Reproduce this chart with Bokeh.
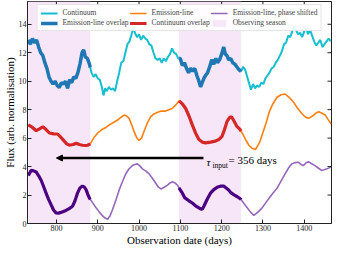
import numpy as np
from bokeh.plotting import figure
from bokeh.models import (Range1d, Arrow, NormalHead, Label, Legend,
                          LegendItem, FixedTicker)
from bokeh.embed import file_html
from bokeh.resources import INLINE

FONT = "Liberation Serif"

# ---------------- data ----------------
cont_t = [732, 737, 742, 747, 752, 757, 762, 767, 772, 777, 782, 787, 792, 797, 802, 807,
          812, 817, 822, 827, 832, 837, 842, 847, 852, 857, 862, 866, 870, 875, 880, 885,
          890, 895, 900, 905, 910, 914, 918, 922, 927, 932, 937, 942, 947, 952, 957, 962,
          967, 972, 977, 982, 986, 990, 995, 1000, 1005, 1010, 1015, 1020, 1025, 1030, 1035,
          1040, 1045, 1050, 1055, 1060, 1065, 1070, 1075, 1080, 1085, 1090, 1095, 1100, 1105,
          1110, 1115, 1120, 1125, 1130, 1135, 1140, 1145, 1149, 1153, 1157, 1161, 1166, 1171,
          1176, 1181, 1186, 1190, 1195, 1200, 1205, 1209, 1213, 1217, 1222, 1227, 1232, 1237,
          1242, 1247, 1252, 1257, 1262, 1267, 1271, 1276, 1281, 1286, 1291, 1296, 1301, 1306,
          1311, 1316, 1321, 1326, 1331, 1336, 1341, 1346, 1351, 1356, 1361, 1366, 1371, 1376,
          1380, 1385, 1390, 1395, 1400, 1405, 1409, 1414, 1419, 1424, 1429, 1434, 1439, 1444,
          1449, 1454, 1459, 1464]
cont_f = [12.9, 12.6, 13.0, 12.7, 12.9, 12.4, 12.0, 11.8, 11.3, 10.9, 10.3, 10.0, 9.8, 10.0,
          9.7, 9.55, 9.9, 9.8, 10.0, 9.5, 10.1, 9.9, 10.3, 10.2, 10.6, 11.2, 12.0, 12.2, 11.7,
          11.6, 11.2, 10.6, 10.3, 10.5, 10.2, 10.1, 9.6, 9.0, 9.5, 9.3, 9.6, 9.4, 9.5, 9.3,
          10.0, 10.6, 11.3, 11.4, 12.0, 12.6, 12.8, 13.3, 13.8, 13.4, 13.1, 13.3, 12.9, 13.2,
          13.0, 12.9, 12.6, 12.5, 12.0, 11.6, 11.5, 11.6, 11.3, 11.6, 11.4, 11.7, 11.9, 12.3,
          12.0, 11.9, 11.6, 11.6, 11.1, 11.3, 10.9, 10.6, 10.9, 10.7, 10.9, 10.4, 10.0, 9.6,
          9.9, 10.2, 10.4, 10.6, 11.0, 11.5, 11.2, 11.6, 11.3, 11.5, 11.9, 12.4, 11.9, 11.8,
          11.5, 11.6, 11.3, 11.2, 11.0, 10.8, 10.7, 11.0, 10.8, 10.3, 9.8, 9.4, 9.8, 9.5, 9.7,
          9.6, 9.9, 9.8, 10.2, 10.4, 10.6, 10.9, 11.0, 11.3, 11.5, 11.8, 12.1, 12.6, 12.7,
          13.2, 13.1, 13.5, 13.9, 13.6, 13.3, 13.4, 13.1, 13.5, 13.8, 13.3, 13.6, 13.2, 12.8,
          12.5, 12.7, 12.9, 12.4, 12.6, 12.8, 13.0, 12.8]

line_t = [732, 742, 751, 759, 767, 775, 783, 793, 803, 811, 819, 825, 831, 840, 848, 856,
          863, 870, 876, 882, 890, 900, 910, 920, 928, 938, 948, 956, 964, 970, 976, 982,
          988, 994, 1000, 1006, 1012, 1020, 1028, 1036, 1044, 1054, 1064, 1072, 1080, 1088,
          1097, 1105, 1113, 1121, 1129, 1137, 1145, 1153, 1161, 1173, 1185, 1193, 1201, 1207,
          1213, 1219, 1224, 1230, 1237, 1245, 1252, 1258, 1266, 1274, 1282, 1292, 1300, 1308,
          1316, 1324, 1334, 1344, 1354, 1364, 1374, 1384, 1394, 1402, 1410, 1420, 1428, 1435,
          1443, 1451, 1458, 1465]
line_f = [6.93, 6.75, 6.52, 6.65, 6.8, 6.6, 6.36, 6.3, 6.29, 6.05, 5.79, 5.6, 5.5, 5.55,
          5.63, 5.55, 5.5, 5.48, 5.5, 5.6, 6.0, 6.36, 6.6, 6.75, 6.93, 7.1, 7.27, 7.45, 7.62,
          7.55, 7.39, 6.95, 6.47, 6.05, 5.83, 6.0, 6.47, 7.05, 7.5, 7.7, 7.8, 7.9, 7.9, 8.0,
          8.08, 8.3, 8.62, 8.4, 8.08, 7.55, 6.93, 6.35, 5.9, 5.72, 5.67, 5.72, 5.79, 5.9, 6.13,
          6.6, 7.16, 7.45, 7.5, 7.2, 6.82, 6.59, 6.25, 5.9, 5.5, 5.28, 5.2, 5.7, 6.4, 7.1, 7.9,
          8.4, 8.87, 9.05, 9.1, 8.85, 8.53, 8.1, 7.73, 7.5, 7.39, 7.55, 7.75, 7.85, 7.75, 7.62,
          7.3, 7.0]

shift_t = [732, 739, 745, 751, 757, 763, 769, 775, 781, 787, 793, 799, 805, 811, 817, 823,
           831, 839, 845, 851, 857, 863, 868, 872, 876, 880, 888, 896, 904, 912, 918, 924,
           930, 936, 944, 952, 960, 968, 976, 984, 990, 996, 1002, 1008, 1016, 1024, 1032,
           1041, 1047, 1053, 1061, 1069, 1075, 1081, 1087, 1093, 1099, 1105, 1111, 1117, 1123,
           1129, 1139, 1149, 1153, 1157, 1165, 1173, 1181, 1189, 1197, 1205, 1211, 1217, 1223,
           1230, 1238, 1246, 1254, 1262, 1270, 1278, 1288, 1298, 1308, 1318, 1326, 1334, 1344,
           1354, 1362, 1370, 1378, 1386, 1392, 1398, 1404, 1410, 1418, 1426, 1434, 1442, 1448,
           1455, 1464]
shift_f = [3.38, 3.73, 3.7, 3.62, 3.35, 3.04, 2.6, 2.13, 1.7, 1.33, 0.95, 0.75, 0.73, 0.78,
           0.85, 0.92, 1.05, 1.21, 1.6, 2.13, 2.5, 2.63, 2.55, 2.36, 2.05, 1.78, 1.45, 1.1,
           0.8, 0.53, 0.38, 0.3, 0.55, 0.98, 1.65, 2.36, 2.95, 3.5, 3.85, 4.07, 4.15, 4.19,
           4.05, 3.84, 3.7, 3.5, 3.2, 2.81, 2.55, 2.43, 2.55, 2.7, 2.85, 2.93, 2.85, 2.7, 2.4,
           2.13, 1.8, 1.68, 1.55, 1.44, 1.2, 1.03, 1.0, 1.21, 1.7, 2.13, 2.38, 2.54, 2.62,
           2.63, 2.5, 2.36, 2.15, 2.01, 1.88, 1.72, 1.4, 1.1, 0.8, 0.57, 0.8, 1.1, 1.5, 1.9,
           2.2, 2.47, 3.0, 3.5, 3.9, 4.19, 4.28, 4.3, 4.15, 4.07, 4.25, 4.35, 4.2, 4.07, 3.9,
           3.73, 3.78, 3.84, 3.96]

season_start = [732, 1097]
season_end = [882, 1247]

tau_input = 356
arrow_head_x = 800
arrow_y = 4.6

x_ticks = [800, 900, 1000, 1100, 1200, 1300, 1400]
y_ticks = [0, 2, 4, 6, 8, 10, 12, 14]
x_lim = (730, 1466)
y_lim = (0, 15.6)

# colours
C_CONT, C_CONT_OV = "#17becf", "#1f77b4"
C_LINE, C_LINE_OV = "#ff7f0e", "#d62728"
C_SHIFT, C_SHIFT_OV = "#9467bd", "#4b0082"
C_SEASON = "#f7e6f7"
C_FRAME = "#222222"


def season_segments(t, f):
    t = np.asarray(t, float)
    f = np.asarray(f, float)
    xs, ys = [], []
    for s, e in zip(season_start, season_end):
        s = max(s, t[0])
        e = min(e, t[-1])
        inner = t[(t > s) & (t < e)]
        xx = np.concatenate([[s], inner, [e]])
        xs.append(list(xx))
        ys.append(list(np.interp(xx, t, f)))
    return xs, ys


p = figure(frame_width=304, frame_height=222, output_backend="svg", toolbar_location=None,
           x_range=Range1d(*x_lim), y_range=Range1d(*y_lim),
           min_border_left=0, min_border_right=3, min_border_top=1, min_border_bottom=0)
p.xgrid.visible = False
p.ygrid.visible = False
p.outline_line_color = C_FRAME
p.outline_line_width = 1
p.background_fill_color = "white"

seasons = p.quad(left=season_start, right=season_end,
                 bottom=[y_lim[0]] * len(season_start), top=[y_lim[1]] * len(season_start),
                 fill_color=C_SEASON, line_color=None)

r_cont = p.line(cont_t, cont_f, line_color=C_CONT, line_width=2)
xs, ys = season_segments(cont_t, cont_f)
r_cont_ov = p.multi_line(xs, ys, line_color=C_CONT_OV, line_width=3.5)

r_line = p.line(line_t, line_f, line_color=C_LINE, line_width=1.6)
xs, ys = season_segments(line_t, line_f)
r_line_ov = p.multi_line(xs, ys, line_color=C_LINE_OV, line_width=3.2)

r_shift = p.line(shift_t, shift_f, line_color=C_SHIFT, line_width=1.6)
xs, ys = season_segments(shift_t, shift_f)
r_shift_ov = p.multi_line(xs, ys, line_color=C_SHIFT_OV, line_width=3.2)

# inward ticks on the top and right frame edges (mirroring the axes)
p.scatter(x=x_ticks, y=[y_lim[1]] * len(x_ticks), marker="dash", angle=np.pi / 2,
          size=8, line_color=C_FRAME, line_width=1)
p.scatter(x=[x_lim[1]] * len(y_ticks), y=y_ticks, marker="dash",
          size=8, line_color=C_FRAME, line_width=1)

# arrow with lag annotation
tail_x = arrow_head_x + tau_input
p.add_layout(Arrow(end=NormalHead(size=6, fill_color="black", line_color="black"),
                   x_start=tail_x, y_start=arrow_y, x_end=arrow_head_x, y_end=arrow_y,
                   line_color="black", line_width=2.5))
p.add_layout(Label(x=tail_x, y=arrow_y, x_offset=3, y_offset=-4, text="τ",
                   text_font=FONT, text_font_style="italic", text_font_size="11px",
                   text_baseline="middle", text_color="black"))
p.add_layout(Label(x=tail_x, y=arrow_y, x_offset=9, y_offset=-7, text="input",
                   text_font=FONT, text_font_size="7.5px",
                   text_baseline="middle", text_color="black"))
p.add_layout(Label(x=tail_x, y=arrow_y, x_offset=25, y_offset=-2, text="= 356 days",
                   text_font=FONT, text_font_size="11px",
                   text_baseline="middle", text_color="black"))

# axes
for ax in (p.xaxis[0], p.yaxis[0]):
    ax.major_tick_in = 4
    ax.major_tick_out = 0
    ax.minor_tick_line_color = None
    ax.axis_line_color = C_FRAME
    ax.major_tick_line_color = C_FRAME
    ax.major_label_text_font = FONT
    ax.major_label_text_font_size = "8px"
    ax.major_label_text_color = C_FRAME
    ax.axis_label_text_font = FONT
    ax.axis_label_text_font_size = "11px"
    ax.axis_label_text_font_style = "normal"
    ax.axis_label_text_color = "black"
    ax.major_label_standoff = 1
    ax.axis_label_standoff = 0
p.xaxis[0].ticker = FixedTicker(ticks=x_ticks)
p.yaxis[0].ticker = FixedTicker(ticks=y_ticks)
p.xaxis[0].axis_label = "Observation date (days)"
p.yaxis[0].axis_label = "Flux (arb. normalisation)"

legend = Legend(items=[
    LegendItem(label="Continuum", renderers=[r_cont]),
    LegendItem(label="Emission-line overlap", renderers=[r_cont_ov]),
    LegendItem(label="Emission-line", renderers=[r_line]),
    LegendItem(label="Continuum overlap", renderers=[r_line_ov]),
    LegendItem(label="Emission-line, phase shifted", renderers=[r_shift]),
    LegendItem(label="Observing season", renderers=[seasons]),
], nrows=2, location="top_center")
legend.label_text_font = FONT
legend.label_text_font_size = "7.5px"
legend.label_height = 8
legend.glyph_height = 8
legend.glyph_width = 17
legend.label_standoff = 5
legend.spacing = 1
legend.padding = 3
legend.margin = 3
legend.border_line_color = "#cccccc"
legend.border_line_width = 1
legend.background_fill_alpha = 0.9
p.add_layout(legend)

open("out.html", "w").write(file_html(p, INLINE))
